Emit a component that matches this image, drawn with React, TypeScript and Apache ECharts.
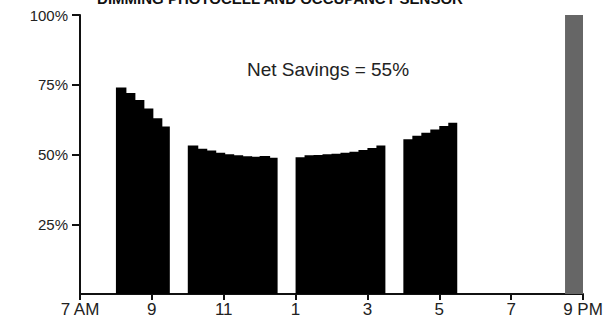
import React, { useEffect, useRef } from "react";
import * as echarts from "echarts";

// Hours of the day (7 = 7 AM, 21 = 9 PM)
const xTickValues = [7, 9, 11, 13, 15, 17, 19, 21];
const xTickLabels = ["7 AM", "9", "11", "1", "3", "5", "7", "9 PM"];
const yTickValues = [25, 50, 75, 100];

const stepHours = 0.25; // each step lasts 15 minutes

// Lighting power (%) per 15-minute step
const morningStart = 8;
const morningValues = [74, 72, 69.5, 66.5, 63, 60];
const lateMorningStart = 10;
const lateMorningValues = [53.2, 52.1, 51.4, 50.6, 50.1, 49.7, 49.4, 49.2, 49.5, 48.8];
const afternoonStart = 13;
const afternoonValues = [49, 49.7, 49.8, 50.1, 50.3, 50.6, 51, 51.6, 52.3, 53.2];
const lateAfternoonStart = 16;
const lateAfternoonValues = [55.5, 56.7, 57.8, 59, 60.2, 61.4];

// Grey block (cleaning period)
const eveningStart = 20.5;
const eveningEnd = 21;
const eveningValue = 100;

const title = "DIMMING PHOTOCELL AND OCCUPANCY SENSOR";
const note = "Net Savings = 55%";

function buildSteps(start: number, values: number[]) {
  // [start, end, value, isLastStepOfBlock]
  return values.map((v, i) => [
    start + i * stepHours,
    start + (i + 1) * stepHours,
    v,
    i === values.length - 1 ? 1 : 0,
  ]);
}

export default function App() {
  const ref = useRef<HTMLDivElement>(null);
  useEffect(() => {
    if (!ref.current) return;
    const chart = echarts.init(ref.current, null, { renderer: "svg" });
    const blackData = [
      ...buildSteps(morningStart, morningValues),
      ...buildSteps(lateMorningStart, lateMorningValues),
      ...buildSteps(afternoonStart, afternoonValues),
      ...buildSteps(lateAfternoonStart, lateAfternoonValues),
    ];
    const greyData = [[eveningStart, eveningEnd, eveningValue, 1]];
    const renderItem = (color: string) => (params: any, api: any) => {
      const a = api.coord([api.value(0), api.value(2)]);
      const b = api.coord([api.value(1), 0]);
      const overlap = api.value(3) ? 0 : 1.5;
      return {
        type: "rect",
        shape: { x: a[0], y: a[1], width: b[0] - a[0] + overlap, height: b[1] - a[1] },
        style: { fill: color },
      };
    };
    const font = "'Liberation Sans', Arial, sans-serif";
    chart.setOption({
      animation: false,
      grid: { left: 80, right: 27, top: 15, bottom: 29, containLabel: false },
      xAxis: {
        type: "value",
        min: 7,
        max: 21,
        interval: 2,
        splitLine: { show: false },
        axisLine: { show: true, onZero: false, lineStyle: { color: "#111", width: 2 } },
        axisTick: { show: true, length: 6, lineStyle: { color: "#111", width: 2 }, customValues: xTickValues },
        axisLabel: {
          show: true,
          color: "#222",
          fontSize: 17,
          fontFamily: font,
          margin: 7,
          customValues: xTickValues,
          formatter: (v: number) => {
            const i = xTickValues.indexOf(v);
            return i >= 0 ? xTickLabels[i] : "";
          },
        },
      },
      yAxis: {
        type: "value",
        min: 0,
        max: 100,
        interval: 25,
        splitLine: { show: false },
        axisLine: { show: true, lineStyle: { color: "#111", width: 2 } },
        axisTick: { show: true, length: 8, lineStyle: { color: "#111", width: 2 }, customValues: yTickValues },
        axisLabel: {
          show: true,
          color: "#222",
          fontSize: 15,
          fontFamily: font,
          margin: 12,
          customValues: yTickValues,
          formatter: (v: number) => `${v}%`,
        },
      },
      graphic: [
        {
          type: "text",
          x: 280,
          y: -9,
          style: {
            text: title,
            fill: "#111",
            font: `bold 15px ${font}`,
            textAlign: "center",
            textVerticalAlign: "top",
          },
        },
        {
          type: "text",
          x: 328,
          y: 69,
          style: {
            text: note,
            fill: "#222",
            font: `19px ${font}`,
            textAlign: "center",
            textVerticalAlign: "middle",
          },
        },
      ],
      series: [
        {
          type: "custom",
          renderItem: renderItem("#000"),
          data: blackData,
          encode: { x: [0, 1], y: 2 },
          z: 1,
        },
        {
          type: "custom",
          renderItem: renderItem("#666"),
          data: greyData,
          encode: { x: [0, 1], y: 2 },
          z: 1,
        },
      ],
    });
    return () => chart.dispose();
  }, []);
  return <div ref={ref} style={{ position: "absolute", left: 0, top: 0, width: 610, height: 323 }} />;
}
